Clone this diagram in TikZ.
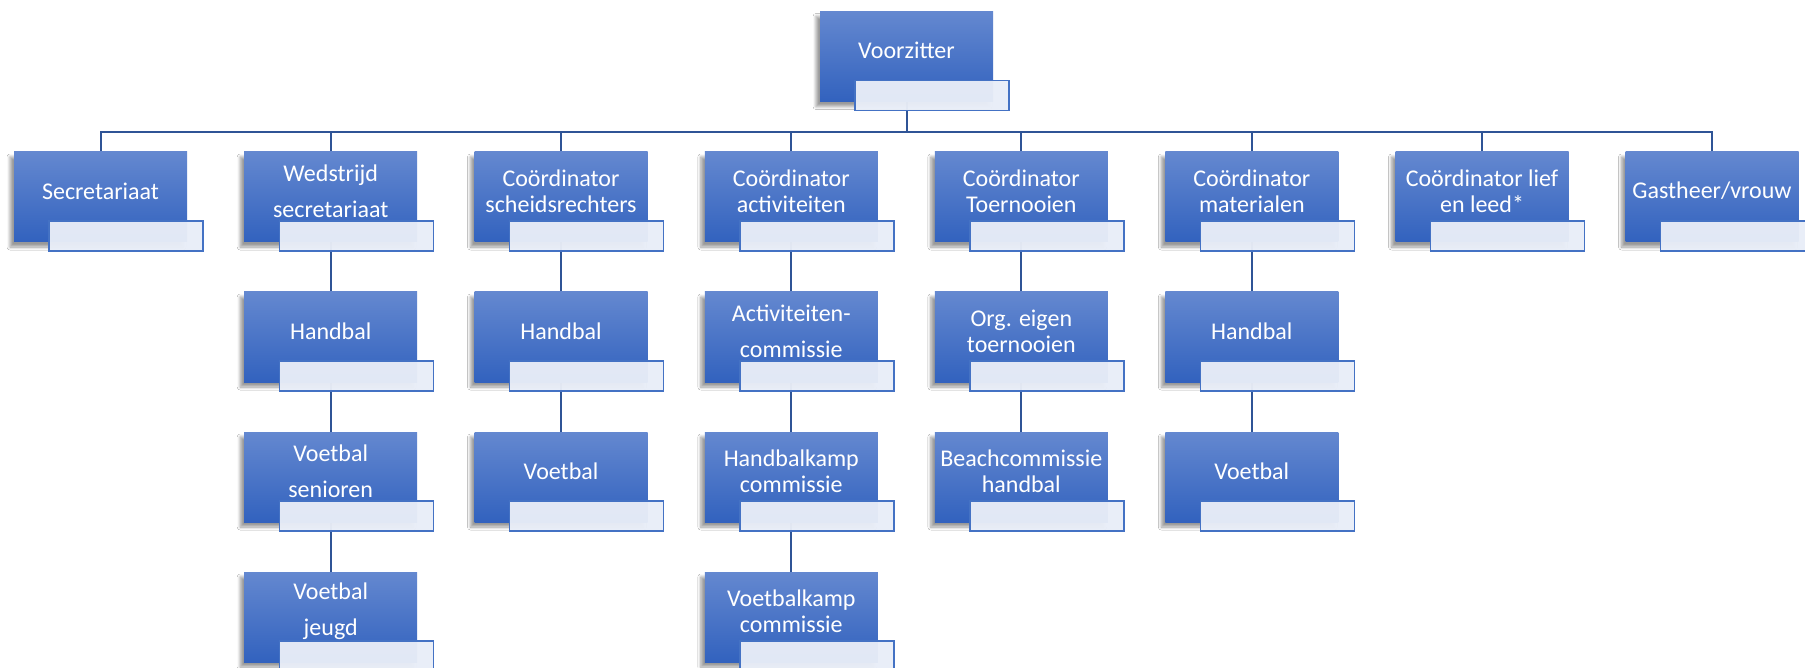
\documentclass[tikz,border=0pt]{standalone}
\usepackage{fontspec}
\setmainfont{Carlito}
\usetikzlibrary{shadows.blur,backgrounds}
\definecolor{boxtop}{RGB}{100,136,208}
\definecolor{boxbot}{RGB}{50,98,190}
\definecolor{linec}{RGB}{47,84,150}
\definecolor{subfill}{RGB}{233,238,248}
\definecolor{subdraw}{RGB}{68,114,196}
\tikzset{
  unitbox/.style={minimum width=86.5pt, minimum height=45pt, inner sep=0pt,
    top color=boxtop, bottom color=boxbot, draw=none,
    blur shadow={shadow xshift=-2pt, shadow yshift=-2.5pt, shadow opacity=40, shadow blur steps=6, shadow blur radius=1.5pt}},
  subbox/.style={minimum width=77pt, minimum height=15pt, inner sep=0pt,
    fill=subfill, fill opacity=0.96, draw=subdraw, line width=0.7pt},
  lbl/.style={text=white, align=center, font=\fontsize{12}{12.85}\selectfont, inner sep=0pt},
  widelbl/.style={lbl, font=\fontsize{12}{18}\selectfont},
  conn/.style={draw=linec, line width=1pt},
}
\newcommand\obox[5]{%
  \node[unitbox] (#1) at (#2,#3) {};
  \node[subbox] (#1s) at ([xshift=12.75pt,yshift=-19.5pt]#1.center) {};
  \node[#5] (#1t) at ([yshift=3pt]#1.center) {#4};
}
\begin{document}
\begin{tikzpicture}[x=0.5pt,y=-0.5pt]
\useasboundingbox (0,0) rectangle (1805,668);
% top
\obox{vz}{906.5}{56.5}{Voorzitter}{lbl}
% level 1
\obox{sec}{100.5}{197}{Secretariaat}{lbl}
\obox{wed}{330.7}{197}{Wedstrijd\\secretariaat}{widelbl}
\obox{sch}{561}{197}{Coördinator\\scheidsrechters}{lbl}
\obox{act}{791.3}{197}{Coördinator\\activiteiten}{lbl}
\obox{toe}{1021.3}{197}{Coördinator\\Toernooien}{lbl}
\obox{mat}{1251.8}{197}{Coördinator\\materialen}{lbl}
\obox{lief}{1482}{197}{Coördinator lief\\en leed*}{lbl}
\obox{gast}{1712}{197}{Gastheer/vrouw}{lbl}
% level 2
\obox{wedA}{330.7}{337}{Handbal}{lbl}
\obox{schA}{561}{337}{Handbal}{lbl}
\obox{actA}{791.3}{337}{Activiteiten-\\commissie}{widelbl}
\obox{toeA}{1021.3}{337}{Org. eigen\\toernooien}{lbl}
\obox{matA}{1251.8}{337}{Handbal}{lbl}
% level 3
\obox{wedB}{330.7}{477}{Voetbal\\senioren}{widelbl}
\obox{schB}{561}{477}{Voetbal}{lbl}
\obox{actB}{791.3}{477}{Handbalkamp\\commissie}{lbl}
\obox{toeB}{1021.3}{477}{Beachcommissie\\handbal}{lbl}
\obox{matB}{1251.8}{477}{Voetbal}{lbl}
% level 4
\obox{wedC}{330.7}{617}{Voetbal\\jeugd}{widelbl}
\obox{actC}{791.3}{617}{Voetbalkamp\\commissie}{lbl}
\coordinate (bus) at (0,132);
\begin{scope}[on background layer]
\fill[white] (0,0) rectangle (1805,668);
\foreach \c in {sec,wed,sch,act,toe,mat,lief,gast}
  \draw[conn] (vz.south) -- (vz.south |- bus) -| (\c.north);
\draw[conn] (wed.south) -- (wedA.north);
\draw[conn] (wedA.south) -- (wedB.north);
\draw[conn] (wedB.south) -- (wedC.north);
\draw[conn] (sch.south) -- (schA.north);
\draw[conn] (schA.south) -- (schB.north);
\draw[conn] (act.south) -- (actA.north);
\draw[conn] (actA.south) -- (actB.north);
\draw[conn] (actB.south) -- (actC.north);
\draw[conn] (toe.south) -- (toeA.north);
\draw[conn] (toeA.south) -- (toeB.north);
\draw[conn] (mat.south) -- (matA.north);
\draw[conn] (matA.south) -- (matB.north);
\end{scope}
\end{tikzpicture}
\end{document}
